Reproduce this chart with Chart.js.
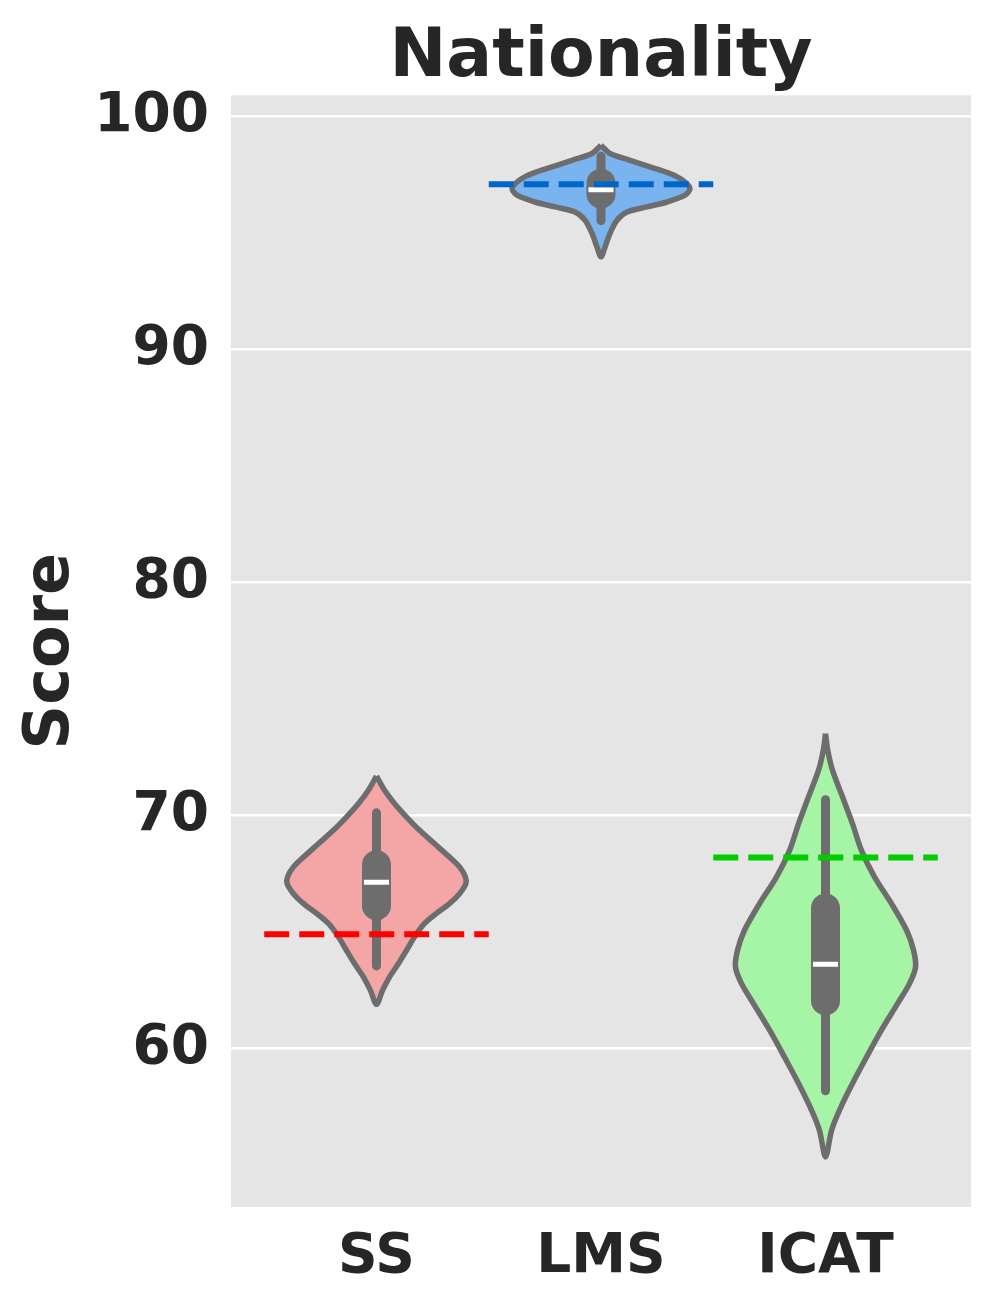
<!DOCTYPE html>
<html>
<head>
<meta charset="utf-8">
<script src="https://cdn.jsdelivr.net/npm/chart.js@4.4.1/dist/chart.umd.min.js"></script>
<style>
  html, body { margin: 0; padding: 0; background: #fff; }
  canvas { display: block; }
</style>
</head>
<body>
<canvas id="violinChart" width="996" height="1306"></canvas>
<script>
const categories = ['SS', 'LMS', 'ICAT'];
const yTicks = [60, 70, 80, 90, 100];

// violin outlines: score levels (top -> bottom) and half width in category units
const ssLevels = [71.70, 71.09, 70.52, 69.94, 69.37, 68.80, 68.22, 67.80, 67.37, 67.08, 66.65, 66.22, 65.80, 65.37, 64.79, 64.22, 63.65, 63.07, 62.50, 61.90];
const ssWidths = [0, 0.036, 0.080, 0.134, 0.192, 0.258, 0.325, 0.370, 0.396, 0.398, 0.370, 0.325, 0.267, 0.214, 0.169, 0.134, 0.098, 0.058, 0.027, 0];

const lmsLevels = [98.78, 98.42, 98.13, 97.85, 97.56, 97.27, 96.92, 96.63, 96.34, 96.13, 95.91, 95.56, 94.99, 94.41, 93.98];
const lmsWidths = [0, 0.040, 0.129, 0.218, 0.307, 0.365, 0.396, 0.374, 0.294, 0.205, 0.116, 0.071, 0.040, 0.018, 0];

const icatLevels = [73.52, 72.81, 71.95, 70.80, 69.66, 68.51, 67.37, 66.22, 65.08, 64.22, 63.50, 62.79, 61.93, 60.79, 59.64, 58.50, 57.35, 56.49, 55.35];
const icatWidths = [0, 0.010, 0.031, 0.076, 0.120, 0.160, 0.218, 0.294, 0.361, 0.392, 0.401, 0.374, 0.321, 0.249, 0.183, 0.120, 0.062, 0.027, 0];

// inner box stats per category
const whiskerHigh = [70.12, 98.30, 70.68];
const q3 = [67.89, 97.15, 66.03];
const medians = [67.14, 96.87, 63.62];
const q1 = [66.13, 96.68, 62.05];
const whiskerLow = [63.55, 95.54, 58.19];

// dashed reference score per category
const refScores = [64.91, 97.10, 68.20];

const fills = ['#f4a6a6', '#7ab4f0', '#a6f4a6'];
const dashColors = ['#ff0000', '#0066cc', '#00cc00'];
const gray = '#6d6d6d';
const inkColor = '#262626';

function outline(i, levels, widths) {
  const right = levels.map((y, k) => ({ x: i + widths[k], y: y }));
  const left = levels.slice(0, -1).map((y, k) => ({ x: i - widths[k], y: y })).reverse();
  return right.concat(left);
}

const violins = [[ssLevels, ssWidths], [lmsLevels, lmsWidths], [icatLevels, icatWidths]];
const datasets = [];

categories.forEach((c, i) => {
  datasets.push({
    label: c + ' violin', order: 4,
    data: outline(i, violins[i][0], violins[i][1]),
    showLine: true, fill: 'shape', backgroundColor: fills[i],
    borderColor: gray, borderWidth: 5.5, borderJoinStyle: 'round', tension: 0.3, pointRadius: 0
  });
  datasets.push({
    label: c + ' whisker', order: 3,
    data: [{ x: i, y: whiskerLow[i] }, { x: i, y: whiskerHigh[i] }],
    showLine: true, borderColor: gray, borderWidth: 9, borderCapStyle: 'round', pointRadius: 0
  });
  datasets.push({
    label: c + ' box', order: 2,
    data: [{ x: i, y: q1[i] }, { x: i, y: q3[i] }],
    showLine: true, borderColor: gray, borderWidth: 29, borderCapStyle: 'round', pointRadius: 0
  });
  datasets.push({
    label: c + ' median', order: 1,
    data: [{ x: i - 0.056, y: medians[i] }, { x: i + 0.056, y: medians[i] }],
    showLine: true, borderColor: '#ffffff', borderWidth: 5, pointRadius: 0
  });
  datasets.push({
    label: c + ' reference', order: 0,
    data: [{ x: i - 0.5, y: refScores[i] }, { x: i + 0.5, y: refScores[i] }],
    showLine: true, borderColor: dashColors[i], borderWidth: 6, borderDash: [25, 10], pointRadius: 0
  });
});

const plotBackground = {
  id: 'plotBackground',
  beforeDraw(chart) {
    const { ctx, chartArea: a } = chart;
    ctx.save();
    ctx.fillStyle = '#e5e5e5';
    ctx.fillRect(a.left, a.top, a.right - a.left, a.bottom - a.top);
    ctx.restore();
  }
};

const ctx = document.getElementById('violinChart').getContext('2d');
new Chart(ctx, {
  type: 'scatter',
  data: { datasets: datasets },
  plugins: [plotBackground],
  options: {
    responsive: false,
    animation: false,
    layout: { padding: { left: 0, right: 25, top: 0, bottom: 0 } },
    plugins: {
      legend: { display: false },
      tooltip: { enabled: false },
      title: {
        display: true, text: 'Nationality', fullSize: false, color: inkColor,
        font: { family: 'DejaVu Sans', size: 68, weight: 'bold', lineHeight: 1.1 },
        padding: { top: 20.5, bottom: 0 }
      }
    },
    scales: {
      x: {
        type: 'linear', min: -0.648, max: 2.648,
        afterFit(scale) { scale.height = 99; },
        afterBuildTicks(scale) { scale.ticks = categories.map((c, i) => ({ value: i })); },
        grid: { display: false },
        border: { display: false },
        ticks: {
          color: inkColor, padding: 10, maxRotation: 0,
          font: { family: 'DejaVu Sans', size: 55, weight: 'bold' },
          callback: (v) => categories[v]
        }
      },
      y: {
        type: 'linear', min: 53.2, max: 100.92,
        afterFit(scale) { scale.width = 231; },
        afterBuildTicks(scale) { scale.ticks = yTicks.map(v => ({ value: v })); },
        grid: { color: '#ffffff', lineWidth: 2.5, drawTicks: false },
        border: { display: false },
        ticks: {
          color: inkColor, padding: 22,
          font: { family: 'DejaVu Sans', size: 55, weight: 'bold' }
        },
        title: {
          display: true, text: 'Score', color: inkColor,
          font: { family: 'DejaVu Sans', size: 62, weight: 'bold' },
          padding: { top: 15, bottom: 0 }
        }
      }
    }
  }
});
</script>
</body>
</html>
